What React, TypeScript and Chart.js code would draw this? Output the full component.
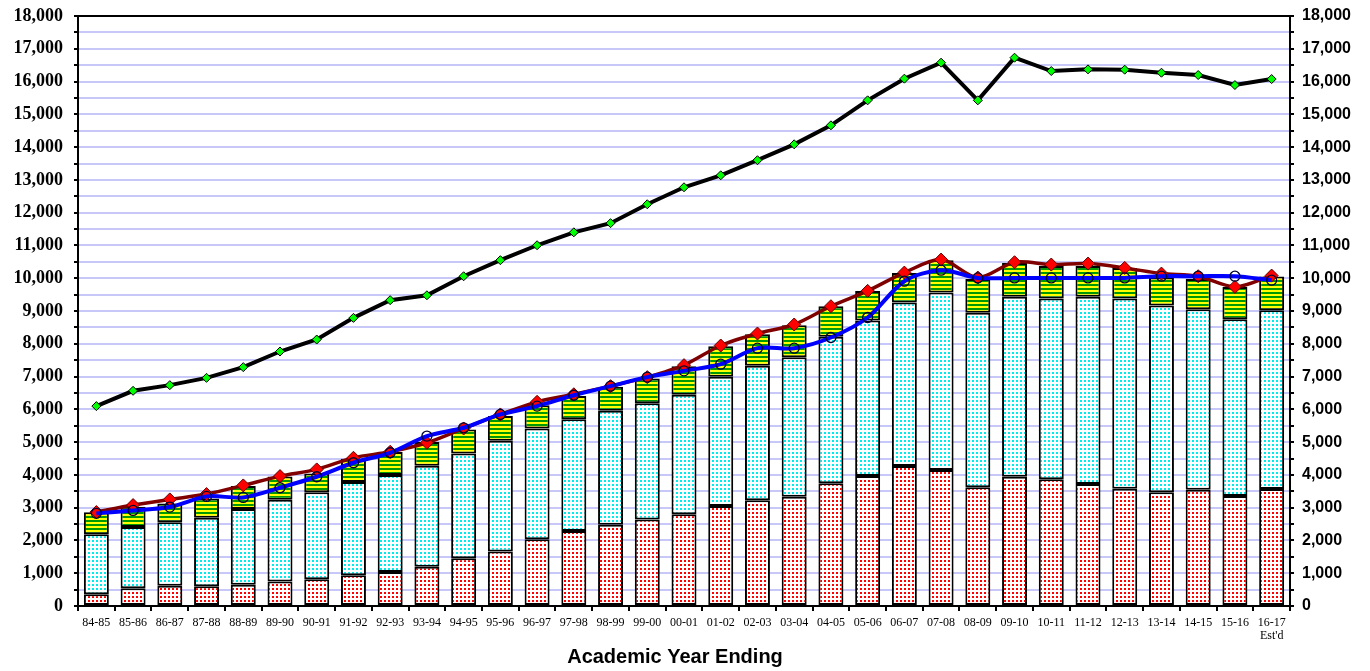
import React, { useEffect, useRef } from 'react';
import { Chart, registerables } from 'chart.js';

Chart.register(...registerables);

const categories: (string | string[])[] = [
  '84-85', '85-86', '86-87', '87-88', '88-89', '89-90', '90-91', '91-92', '92-93', '93-94',
  '94-95', '95-96', '96-97', '97-98', '98-99', '99-00', '00-01', '01-02', '02-03', '03-04',
  '04-05', '05-06', '06-07', '07-08', '08-09', '09-10', '10-11', '11-12', '12-13', '13-14',
  '14-15', '15-16', ['16-17', "Est'd"],
];

// stacked bar segments (bottom → top)
const redSegment = [
  360, 540, 620, 600, 650, 750, 815, 940, 1036, 1200,
  1455, 1660, 2035, 2290, 2480, 2640, 2800, 3050, 3230, 3330,
  3745, 3965, 4268, 4150, 3620, 3945, 3865, 3725, 3580, 3470,
  3550, 3354, 3567,
];
const cyanSegment = [
  1830, 1868, 1935, 2090, 2307, 2495, 2655, 2840, 2958, 3078,
  3199, 3380, 3381, 3411, 3475, 3549, 3643, 3942, 4097, 4261,
  4466, 4745, 4990, 5413, 5323, 5486, 5515, 5706, 5800, 5697,
  5505, 5396, 5457,
];
const stripeSegment = [
  667, 620, 575, 593, 702, 708, 575, 710, 701, 722,
  732, 753, 712, 704, 732, 752, 874, 935, 966, 976,
  935, 900, 904, 986, 1037, 1036, 996, 945, 935, 853,
  925, 986, 1027,
];

// lines
const redLine = [
  2866, 3079, 3252, 3415, 3679, 3963, 4167, 4522, 4705, 4980,
  5416, 5844, 6229, 6460, 6707, 6982, 7348, 7947, 8313, 8588,
  9146, 9614, 10172, 10569, 10020, 10488, 10417, 10447, 10315, 10142,
  10061, 9736, 10081,
];
const blueLine = [
  2826, 2917, 3018, 3344, 3313, 3608, 3943, 4370, 4675, 5183,
  5437, 5844, 6098, 6430, 6707, 6982, 7174, 7378, 7866, 7866,
  8191, 8801, 9909, 10244, 10010, 10010, 10010, 10010, 10010, 10061,
  10061, 10061, 9939,
];
const blackLine = [
  6098, 6565, 6738, 6960, 7287, 7764, 8130, 8790, 9330, 9480,
  10060, 10550, 11006, 11400, 11680, 12256, 12774, 13140, 13600, 14085,
  14665, 15427, 16088, 16576, 15427, 16728, 16321, 16372, 16362, 16270,
  16199, 15894, 16077,
];

const axisMin = 0;
const axisMax = 18000;
const axisStep = 500;
const xTitle = 'Academic Year Ending';

function makePattern(w: number, h: number, draw: (c: CanvasRenderingContext2D) => void) {
  const cv = document.createElement('canvas');
  cv.width = w;
  cv.height = h;
  const c = cv.getContext('2d')!;
  draw(c);
  return c.createPattern(cv, 'repeat')!;
}

export default function App() {
  const ref = useRef<HTMLCanvasElement>(null);

  useEffect(() => {
    const canvas = ref.current!;
    const ctx = canvas.getContext('2d')!;

    const redPat = makePattern(4, 4, (c) => {
      c.fillStyle = '#ffffff';
      c.fillRect(0, 0, 4, 4);
      c.fillStyle = '#ff0000';
      c.fillRect(0, 0, 2, 2);
    });
    const cyanPat = makePattern(4, 4, (c) => {
      c.fillStyle = '#ffffff';
      c.fillRect(0, 0, 4, 4);
      c.fillStyle = '#00ecec';
      c.fillRect(0, 0, 2, 2);
    });
    const stripePat = makePattern(4, 4, (c) => {
      c.fillStyle = '#ffff00';
      c.fillRect(0, 0, 4, 4);
      c.fillStyle = '#009a00';
      c.fillRect(0, 0, 4, 2);
    });

    const fmt = (v: number) => (v % 1000 === 0 ? v.toLocaleString('en-US') : '');

    const frame = {
      id: 'frame',
      afterDraw(chart: any) {
        const { ctx: c, chartArea: a } = chart;
        c.save();
        c.strokeStyle = '#000';
        c.lineWidth = 2;
        c.beginPath();
        c.moveTo(a.left - 1, a.top);
        c.lineTo(a.right + 1, a.top);
        c.stroke();
        c.fillStyle = '#000';
        c.font = 'bold 20px "Liberation Sans", Arial, sans-serif';
        c.textAlign = 'center';
        c.textBaseline = 'middle';
        c.fillText(xTitle, 675, 657);
        c.restore();
      },
    };

    const barBase = {
      type: 'bar' as const,
      borderColor: '#000',
      borderWidth: 2,
      borderSkipped: false as const,
      barPercentage: 0.68,
      categoryPercentage: 1,
      yAxisID: 'y',
      order: 3,
    };

    const fitY = (w: number) => (s: any) => {
      s.width = w;
      s.paddingTop = 0;
      s.paddingBottom = 0;
    };

    const chart = new Chart(ctx, {
      type: 'bar',
      data: {
        labels: categories,
        datasets: [
          { ...barBase, label: 'A', data: redSegment, backgroundColor: redPat },
          { ...barBase, label: 'B', data: cyanSegment, backgroundColor: cyanPat },
          { ...barBase, label: 'C', data: stripeSegment, backgroundColor: stripePat },
          {
            type: 'line',
            label: 'D',
            data: blackLine,
            yAxisID: 'y2',
            order: 2,
            borderColor: '#000',
            borderWidth: 4,
            tension: 0,
            pointStyle: 'rectRot',
            pointRadius: 4.5,
            pointBackgroundColor: '#00ff00',
            pointBorderColor: '#000',
            pointBorderWidth: 1,
          },
          {
            type: 'line',
            label: 'E',
            data: redLine,
            yAxisID: 'y2',
            order: 1,
            borderColor: '#800000',
            borderWidth: 3.5,
            tension: 0.3,
            pointStyle: 'rectRot',
            pointRadius: 6.5,
            pointBackgroundColor: '#ff0000',
            pointBorderColor: '#600000',
            pointBorderWidth: 1,
          },
          {
            type: 'line',
            label: 'F',
            data: blueLine,
            yAxisID: 'y2',
            order: 0,
            borderColor: '#0000ff',
            borderWidth: 4,
            tension: 0.3,
            pointStyle: 'circle',
            pointRadius: 5,
            pointBackgroundColor: 'rgba(0,0,0,0)',
            pointBorderColor: '#000033',
            pointBorderWidth: 1.3,
          },
        ],
      } as any,
      options: {
        animation: false,
        responsive: false,
        devicePixelRatio: 1,
        layout: { padding: { top: 16, left: 0, right: 0, bottom: 0 } },
        plugins: { legend: { display: false }, tooltip: { enabled: false } },
        scales: {
          x: {
            stacked: true,
            offset: true,
            afterFit: (s: any) => { s.height = 65; },
            grid: {
              offset: true,
              drawOnChartArea: false,
              drawTicks: true,
              tickLength: 5,
              color: '#000',
              lineWidth: 2,
            },
            border: { color: '#000', width: 2 },
            ticks: {
              autoSkip: false,
              maxRotation: 0,
              padding: 5,
              color: '#000',
              font: { family: '"Liberation Serif", "Times New Roman", serif', size: 12, lineHeight: 1.1 },
            },
          },
          y: {
            stacked: true,
            position: 'left',
            min: axisMin,
            max: axisMax,
            afterFit: fitY(78),
            grid: {
              color: '#c8c8f8',
              lineWidth: 2,
              tickColor: '#000',
              tickLength: 4,
              drawTicks: true,
            },
            border: { color: '#000', width: 2 },
            ticks: {
              stepSize: axisStep,
              autoSkip: false,
              padding: 11,
              color: '#000',
              callback: (v: any) => fmt(Number(v)),
              font: { family: '"Liberation Serif", "Times New Roman", serif', size: 18, weight: 'bold' },
            },
          },
          y2: {
            position: 'right',
            min: axisMin,
            max: axisMax,
            afterFit: fitY(80),
            grid: {
              drawOnChartArea: false,
              tickColor: '#000',
              tickLength: 4,
              lineWidth: 2,
            },
            border: { color: '#000', width: 2 },
            ticks: {
              stepSize: axisStep,
              autoSkip: false,
              padding: 8,
              color: '#000',
              callback: (v: any) => fmt(Number(v)),
              font: { family: '"Liberation Sans", Arial, sans-serif', size: 16, weight: 'bold' },
            },
          },
        },
      } as any,
      plugins: [frame],
    });

    return () => chart.destroy();
  }, []);

  return (
    <div style={{ position: 'fixed', left: 0, top: 0, width: 1370, height: 671, background: '#fff' }}>
      <canvas ref={ref} width={1370} height={671} style={{ display: 'block' }} />
    </div>
  );
}
